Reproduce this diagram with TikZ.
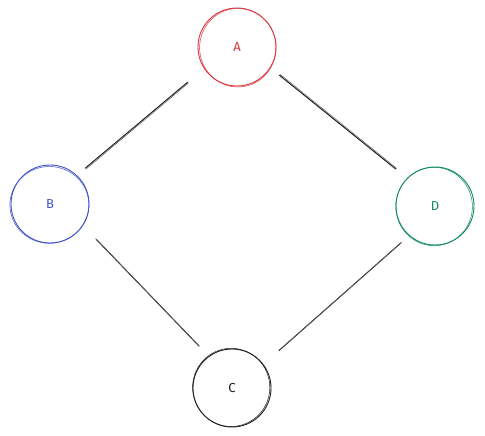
\documentclass[tikz,border=0pt]{standalone}
\usepackage{fontspec}
\setmainfont{Fira Sans}
\usetikzlibrary{calc}
\definecolor{cred}{HTML}{D9363E}
\definecolor{cblue}{HTML}{3F51C8}
\definecolor{cgreen}{HTML}{128A5C}
\definecolor{cblack}{HTML}{1E1E1E}
\tikzset{
  vert/.style={circle, draw, line width=0.9pt, minimum size=78pt, inner sep=0pt, outer sep=0pt, font=\fontsize{13}{15}\selectfont},
  edge/.style={draw=cblack, line width=1pt},
  edgeb/.style={draw=cblack!70, line width=0.5pt},
}
\begin{document}
\begin{tikzpicture}[x=1pt,y=-1pt]
\useasboundingbox (0,0) rectangle (485,436);
\node[vert, draw=cred, text=cred] (A) at (237,47) {A};
\node[vert, draw=cblue, text=cblue] (B) at (50,204) {B};
\node[vert, draw=cgreen, text=cgreen] (D) at (435,206) {D};
\node[vert, draw=cblack, text=cblack] (C) at (232,388) {C};
% sketchy second strokes
\draw[cred, line width=0.5pt] ($(A)+(0.8,0.7)$) ellipse (38.2 and 39.3);
\draw[cblue, line width=0.5pt] ($(B)+(-0.6,0.9)$) ellipse (39.5 and 38.4);
\draw[cgreen, line width=0.5pt] ($(D)+(-0.9,0.5)$) ellipse (38.3 and 39.2);
\draw[cblack, line width=0.5pt] ($(C)+(-0.8,-0.6)$) ellipse (38.6 and 39.1);
% connectors
\path[edge, shorten <=21.7pt, shorten >=11.2pt] (A.213) -- (B.47);
\path[edgeb, shorten <=21.7pt, shorten >=11.2pt, transform canvas={xshift=0.8pt,yshift=-0.8pt}] (A.213) -- (B.47);
\path[edge, shorten <=11.8pt, shorten >=14.7pt] (A.328) -- (D.135);
\path[edgeb, shorten <=11.8pt, shorten >=14.7pt, transform canvas={xshift=0.8pt,yshift=0.8pt}] (A.328) -- (D.135);
\path[edge, shorten <=19.5pt, shorten >=14pt] (B.327) -- (C.126);
\path[edgeb, shorten <=19.5pt, shorten >=14pt, transform canvas={xshift=-0.8pt,yshift=0.8pt}] (B.327) -- (C.126);
\path[edge, shorten <=11.3pt, shorten >=21pt] (D.229) -- (C.37);
\path[edgeb, shorten <=11.3pt, shorten >=21pt, transform canvas={xshift=0.8pt,yshift=0.8pt}] (D.229) -- (C.37);
\end{tikzpicture}
\end{document}
